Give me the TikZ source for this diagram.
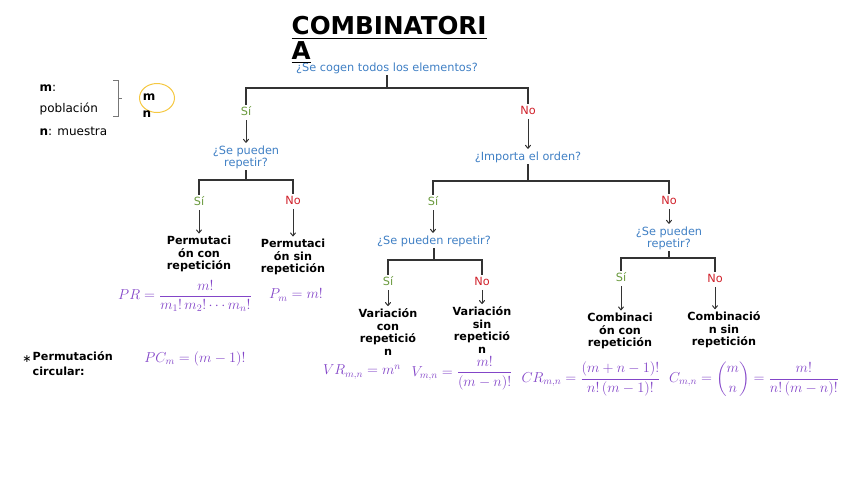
\documentclass[tikz,border=0pt]{standalone}
\usepackage[no-math]{fontspec}
\setmainfont{DejaVu Sans}
\usepackage{amsmath}
\usetikzlibrary{arrows.meta,shapes.geometric}
\definecolor{qblue}{HTML}{3F7FC4}
\definecolor{sigreen}{HTML}{6A9A3E}
\definecolor{nored}{HTML}{D0202A}
\definecolor{fpurple}{HTML}{8345C8}
\definecolor{lc}{HTML}{333333}
\definecolor{ylw}{HTML}{F5C842}
\definecolor{brk}{HTML}{777777}
\begin{document}
\begin{tikzpicture}[x=1pt,y=-1pt,
  every node/.style={inner sep=1.5pt},
  q/.style={text=qblue, font=\fontsize{11.3}{12}\selectfont, align=center},
  si/.style={text=sigreen, font=\fontsize{11.3}{12}\selectfont},
  no/.style={text=nored, font=\fontsize{11.3}{12}\selectfont},
  res/.style={font=\bfseries\fontsize{11.2}{12.5}\selectfont, align=center},
  leg/.style={font=\fontsize{12}{14}\selectfont, anchor=west},
  fml/.style={text=fpurple, font=\fontsize{14}{16}\selectfont},
  ln/.style={draw=lc, line width=1.1pt},
  arr/.style={draw=lc, line width=1pt, -{To[length=4pt,width=6pt]}, shorten <=3pt, shorten >=1pt},
]
\useasboundingbox (0,0) rectangle (848,477);

% legend
\node[leg] (lm) at (38,88) {\textbf{m}:};
\node[leg] (lp) at (38,109) {población};
\node[leg] (lnn) at (38,131) {\textbf{n}: muestra};
\draw[brk, line width=0.9pt] (113,80) -- (118,80) -- (118,116) -- (113,116);
\draw[brk, line width=0.9pt] (118,98) -- (122,98);
\node[draw=ylw, line width=1pt, ellipse, minimum width=35, minimum height=29] (ell) at (157,98) {};
\node[font=\bfseries\fontsize{12}{14}\selectfont] (em) at (149,97) {m};
\begin{scope}
\clip (130,80) rectangle (170,117);
\node[font=\bfseries\fontsize{12}{14}\selectfont] (en) at (147,114) {n};
\end{scope}

% top
\node[q] (q1) at (387,68) {¿Se cogen todos los elementos?};
\node[anchor=north west, font=\bfseries\fontsize{24.6}{24.5}\selectfont, align=left] (title) at (290,15) {\underline{COMBINATORI}\\\underline{A}};
\coordinate (b1) at (387,88);
\node[si] (s1) at (246,111) {Sí};
\node[no] (n1) at (528,110) {No};
\draw[ln] (q1.south) -- (b1);
\draw[ln] (s1.north) |- (b1) -| (n1.north);
\node[q] (q2) at (246,157) {¿Se pueden\\repetir?};
\node[q] (q3) at (528,157) {¿Importa el orden?};
\draw[arr] (s1.south) -- (s1.south |- q2.north);
\draw[arr] (n1.south) -- (n1.south |- q3.north);

% left subtree
\coordinate (b2) at (246,180);
\node[si] (s2) at (199,201) {Sí};
\node[no] (n2) at (293,200) {No};
\draw[ln] (q2.south) -- (b2);
\draw[ln] (s2.north) |- (b2) -| (n2.north);
\node[res] (r1) at (199,254) {Permutaci\\ón con\\repetición};
\node[res] (r2) at (293,257) {Permutaci\\ón sin\\repetición};
\draw[arr] (s2.south) -- (s2.south |- r1.north);
\draw[arr] (n2.south) -- (n2.south |- r2.north);
\node[fml] (f1) at (185,296) {$PR=\dfrac{m!}{m_1!\,m_2!\cdots m_n!}$};
\node[fml] (f2) at (296,295) {$P_m=m!$};

% middle
\coordinate (b3) at (528,181);
\node[si] (s3) at (433,201) {Sí};
\node[no] (n3) at (669,200) {No};
\draw[ln] (q3.south) -- (b3);
\draw[ln] (s3.north) |- (b3) -| (n3.north);
\node[q] (q4) at (434,241) {¿Se pueden repetir?};
\node[q] (q5) at (669,238) {¿Se pueden\\repetir?};
\draw[arr] (s3.south) -- (s3.south |- q4.north);
\draw[arr] (n3.south) -- (n3.south |- q5.north);

\coordinate (b4) at (434,260);
\node[si] (s4) at (388,281) {Sí};
\node[no] (n4) at (482,281) {No};
\draw[ln] (q4.south) -- (b4);
\draw[ln] (s4.north) |- (b4) -| (n4.north);
\node[res] (r3) at (388,332) {Variación\\con\\repetició\\n};
\node[res] (r4) at (482,330) {Variación\\sin\\repetició\\n};
\draw[arr] (s4.south) -- (s4.south |- r3.north);
\draw[arr] (n4.south) -- (n4.south |- r4.north);
\node[fml] (f3) at (362,372) {$VR_{m,n}=m^n$};
\node[fml] (f4) at (462,373) {$V_{m,n}=\dfrac{m!}{(m-n)!}$};

\coordinate (b5) at (669,258);
\node[si] (s5) at (621,277) {Sí};
\node[no] (n5) at (715,278) {No};
\draw[ln] (q5.south) -- (b5);
\draw[ln] (s5.north) |- (b5) -| (n5.north);
\node[res] (r5) at (620,331) {Combinaci\\ón con\\repetición};
\node[res] (r6) at (724,330) {Combinació\\n sin\\repetición};
\draw[arr] (s5.south) -- (s5.south |- r5.north);
\draw[arr] (n5.south) -- (n5.south |- r6.north);
\node[fml] (f5) at (591,379) {$CR_{m,n}=\dfrac{(m+n-1)!}{n!\,(m-1)!}$};
\node[fml] (f6) at (754,379) {$C_{m,n}=\dbinom{m}{n}=\dfrac{m!}{n!\,(m-n)!}$};

% circular
\node[font=\fontsize{11}{12}\selectfont] (star) at (27,359) {∗};
\node[res, anchor=north west, align=left, font=\bfseries\fontsize{11.2}{15}\selectfont] (pc) at (31,350) {Permutación\\circular:};
\node[fml] (f7) at (195,359) {$PC_m=(m-1)!$};
\end{tikzpicture}
\end{document}
